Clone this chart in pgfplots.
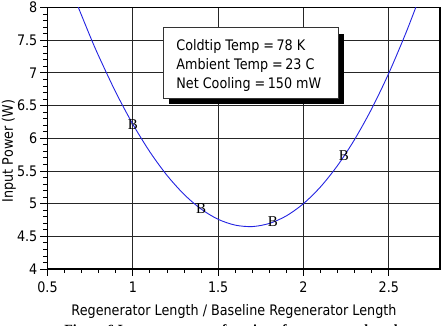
\documentclass[border=0pt]{standalone}
\usepackage{fontspec}
\setmainfont{DejaVu Sans}[FakeStretch=0.88]
\newfontfamily\capfont{Liberation Serif}
\usepackage{pgfplots}
\usepackage{pgfplotstable}
\pgfplotsset{compat=1.18}

% input power vs. normalised regenerator length (fitted curve)
\pgfplotstableread{
x     y
0.67  8.07
0.75  7.558
0.80  7.257
0.90  6.704
1.00  6.215
1.10  5.791
1.20  5.433
1.30  5.142
1.40  4.917
1.50  4.760
1.60  4.671
1.70  4.649
1.80  4.697
1.90  4.813
2.00  5.000
2.10  5.257
2.20  5.584
2.30  5.983
2.40  6.453
2.50  6.995
2.60  7.610
2.67  8.084
}\fitcurve

% computed cases
\pgfplotstableread{
x     y
1.000 6.21
1.400 4.92
1.820 4.72
2.237 5.73
}\cases

\definecolor{curveblue}{RGB}{35,35,225}

\newcommand\lblfont{\fontsize{14.5}{17}\selectfont}

\begin{document}
\begin{tikzpicture}
\begin{axis}[
  scale only axis, width=392.5pt, height=261.5pt,
  xmin=0.5, xmax=2.8, ymin=4, ymax=8,
  xtick={0.5,1,1.5,2,2.5}, ytick={4,4.5,5,5.5,6,6.5,7,7.5,8},
  minor x tick num=4, minor y tick num=4,
  tick align=outside, major tick length=7pt, minor tick length=4pt,
  xtick pos=bottom, ytick pos=left,
  tick style={black, line width=0.8pt},
  grid=major, major grid style={black!85, line width=0.8pt},
  axis line style={line width=1.3pt},
  /pgf/number format/assume math mode=true,
  ticklabel style={font=\lblfont},
  xticklabel style={anchor=north, inner sep=0pt, yshift=-6pt},
  yticklabel style={anchor=east, inner sep=0pt, xshift=-3pt},
  clip=true,
]
\addplot[curveblue, line width=0.9pt, smooth] table {\fitcurve};
\addplot[curveblue, only marks, mark=text,
  text mark={\capfont\fontsize{15}{17}\selectfont B}]
  table {\cases};
% annotation box with its drop shadow
\fill[black] (axis cs:1.213,6.521) rectangle (axis cs:2.240,7.598);
\filldraw[fill=white, draw=black!80, line width=0.6pt]
  (axis cs:1.178,6.605) rectangle (axis cs:2.205,7.690);
\node[anchor=base west, inner sep=0pt, font=\lblfont]
  at (axis cs:1.254,7.338) {Coldtip Temp =\,78 K};
\node[anchor=base west, inner sep=0pt, font=\lblfont]
  at (axis cs:1.254,7.053) {Ambient Temp =\,23 C};
\node[anchor=base west, inner sep=0pt, font=\lblfont]
  at (axis cs:1.254,6.762) {Net Cooling =\,150 mW};
\end{axis}
\node[anchor=base, inner sep=0pt, font=\lblfont]
  at (186.5pt,-46pt) {Regenerator Length / Baseline Regenerator Length};
\node[anchor=base, rotate=90, inner sep=0pt, font=\lblfont]
  at (-34.5pt,118pt) {Input Power (W)};
\node[anchor=base, inner sep=0pt, font=\capfont\bfseries\fontsize{14}{16}\selectfont]
  at (185.5pt,-65pt) {Figure 6 Input power as a function of regenerator length};
\pgfresetboundingbox
\path[use as bounding box] (-47.5pt,-57pt) rectangle (393.5pt,269pt);
\end{tikzpicture}
\end{document}
